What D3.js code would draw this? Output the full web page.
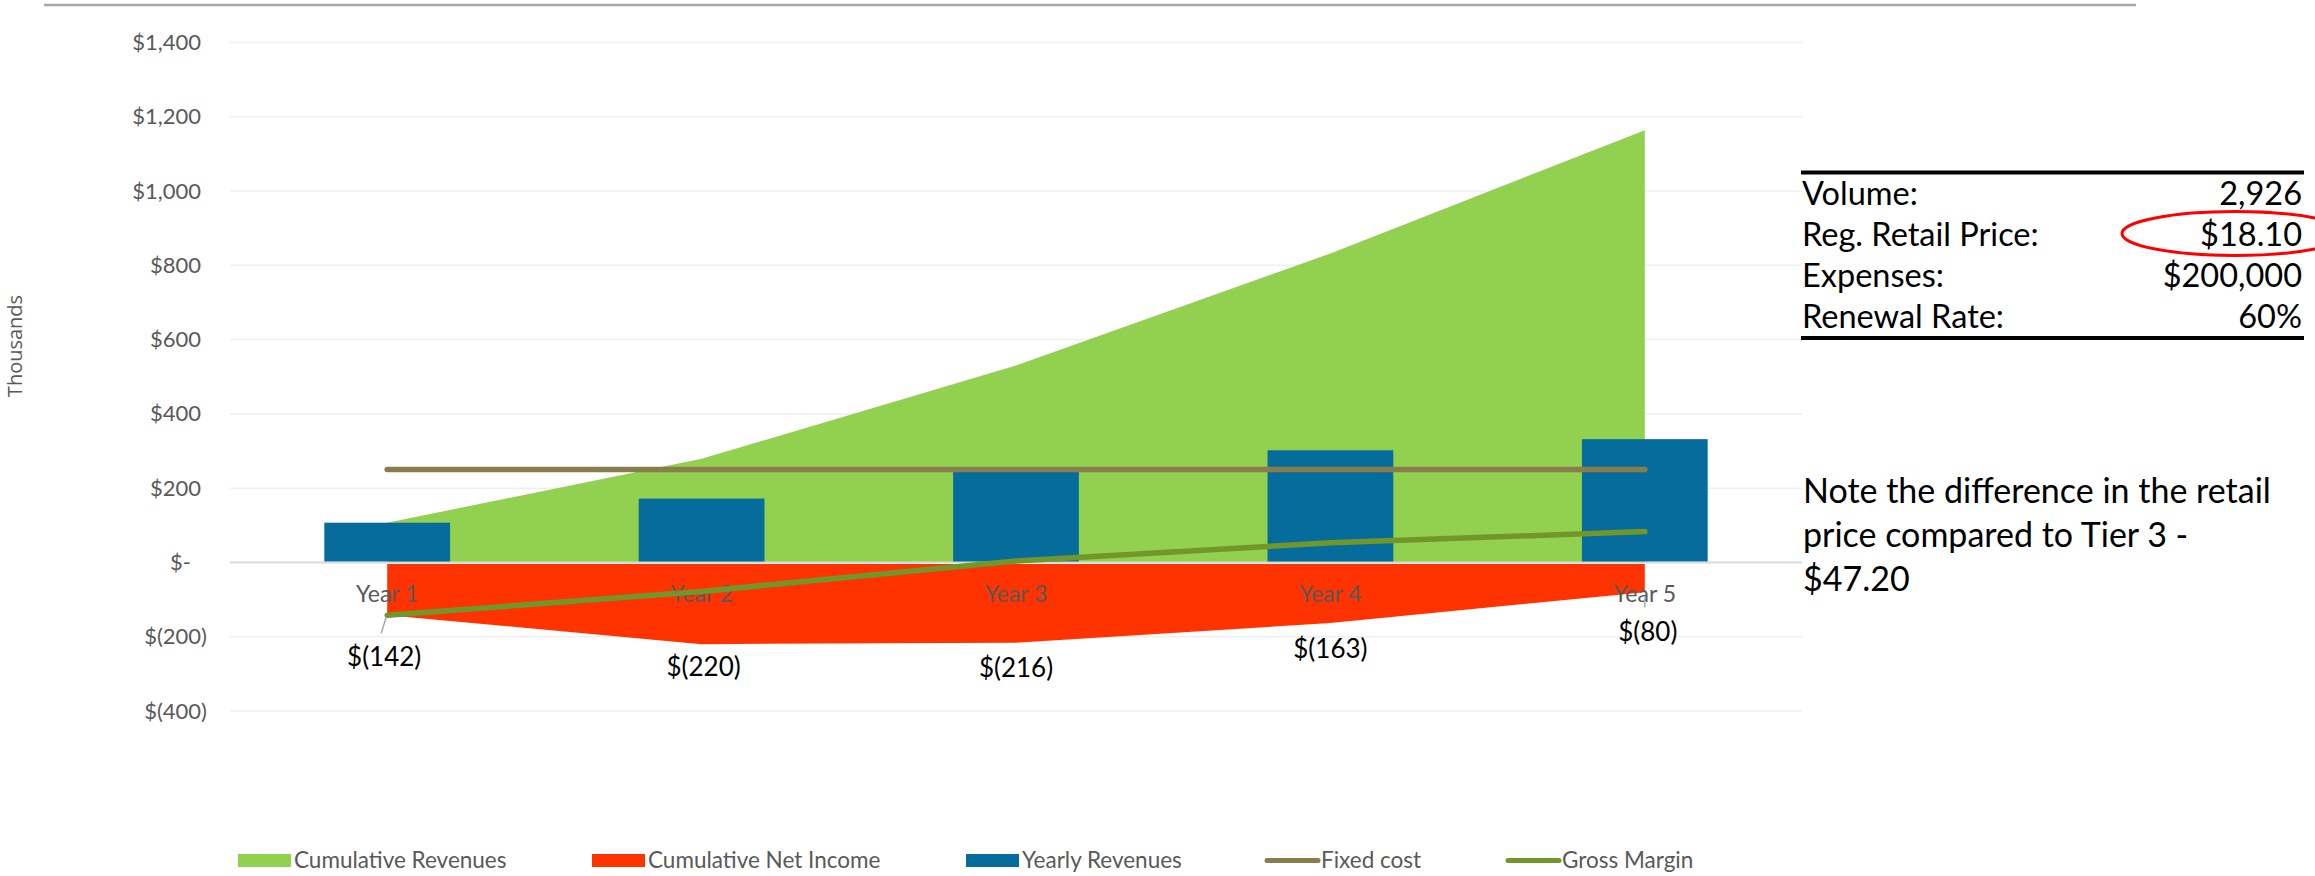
<!DOCTYPE html>
<html>
<head>
<meta charset="utf-8">
<script src="https://cdn.jsdelivr.net/npm/d3@7"></script>
<style>
  html, body { margin: 0; padding: 0; background: #fff; }
  svg { display: block; }
</style>
</head>
<body>
<svg id="chart" width="2315" height="876"></svg>
<script>
// ---- data ----
const categories = ["Year 1", "Year 2", "Year 3", "Year 4", "Year 5"];
const yearlyRevenues = [107, 172, 251, 302, 332];
const cumulativeRevenues = [107, 279, 530, 832, 1164];
const cumulativeNetIncome = [-142, -220, -216, -163, -80];
const fixedCost = [250, 250, 250, 250, 250];
const grossMargin = [-142, -78, 4, 53, 83];
const yTicks = [-400, -200, 0, 200, 400, 600, 800, 1000, 1200, 1400];
const tableLabels = ["Volume:", "Reg. Retail Price:", "Expenses:", "Renewal Rate:"];
const tableValues = ["2,926", "$18.10", "$200,000", "60%"];
const noteLines = ["Note the difference in the retail", "price compared to Tier 3 -", "$47.20"];
const legendNames = ["Cumulative Revenues", "Cumulative Net Income", "Yearly Revenues", "Fixed cost", "Gross Margin"];

// ---- styles / layout ----
const colors = {
  cumRev: "#92d050", cumNet: "#ff3300", yearly: "#066c9c",
  fixed: "#877d4d", gm: "#71972b", axisText: "#595959"
};
const FONT = "Lato, 'Open Sans', sans-serif";
const plot = { left: 230, right: 1802, top: 42.5, bottom: 711 };

const svg = d3.select("#chart");

const x = d3.scaleBand().domain(categories)
  .range([plot.left, plot.right]).paddingInner(0.6).paddingOuter(0.3);
const cx = d => x(d) + x.bandwidth() / 2;
const y = d3.scaleLinear().domain([-400, 1400]).range([plot.bottom, plot.top]);

// top rule
svg.append("line").attr("x1", 44).attr("x2", 2136).attr("y1", 5).attr("y2", 5)
  .attr("stroke", "#a6a6a6").attr("stroke-width", 2.5);

// gridlines
svg.append("g").selectAll("line").data(yTicks.filter(t => t !== 0)).join("line")
  .attr("x1", plot.left).attr("x2", plot.right)
  .attr("y1", d => y(d)).attr("y2", d => y(d))
  .attr("stroke", "#efefef").attr("stroke-width", 1.5);

// y axis labels
const fmt = v => v === 0 ? "$-" : v < 0 ? "$(" + d3.format(",")(-v) + ")" : "$" + d3.format(",")(v);
const yAxis = d3.axisLeft(y).tickValues(yTicks).tickFormat(fmt).tickSize(0).tickPadding(0);
const gy = svg.append("g").attr("transform", `translate(${plot.left - 29},0)`).call(yAxis);
gy.select(".domain").remove();
gy.selectAll("text").attr("font-family", FONT).attr("font-size", 22).attr("fill", colors.axisText)
  .attr("text-anchor", "end")
  .attr("dx", d => d === 0 ? -10 : d < 0 ? 6 : 0);

// axis title
svg.append("text").attr("transform", "translate(22,346) rotate(-90)")
  .attr("text-anchor", "middle").attr("font-family", "'Open Sans', sans-serif")
  .attr("font-size", 20).attr("fill", colors.axisText).text("Thousands");

const idx = categories.map((c, i) => i);

// cumulative revenues area
svg.append("path").datum(idx)
  .attr("d", d3.area().x(i => cx(categories[i])).y0(y(0)).y1(i => y(cumulativeRevenues[i])))
  .attr("fill", colors.cumRev);

// cumulative net income area
svg.append("path").datum(idx)
  .attr("d", d3.area().x(i => cx(categories[i])).y0(y(0) + 1.5).y1(i => y(cumulativeNetIncome[i])))
  .attr("fill", colors.cumNet);

// zero line
svg.append("line").attr("x1", plot.left).attr("x2", plot.right)
  .attr("y1", y(0)).attr("y2", y(0)).attr("stroke", "#d9d9d9").attr("stroke-width", 2);

// yearly revenue bars
svg.append("g").selectAll("rect").data(idx).join("rect")
  .attr("x", i => x(categories[i])).attr("width", x.bandwidth())
  .attr("y", i => y(yearlyRevenues[i])).attr("height", i => y(0) - 1 - y(yearlyRevenues[i]))
  .attr("fill", colors.yearly);

// x labels
svg.append("g").selectAll("text").data(categories).join("text")
  .attr("x", d => cx(d)).attr("y", y(0) + 40)
  .attr("text-anchor", "middle").attr("font-family", FONT).attr("font-size", 23)
  .attr("fill", colors.axisText).text(d => d);

// lines
const line = arr => d3.line().x(i => cx(categories[i])).y(i => y(arr[i]));
svg.append("path").datum(idx).attr("d", line(fixedCost))
  .attr("fill", "none").attr("stroke", colors.fixed).attr("stroke-width", 5.5)
  .attr("stroke-linecap", "round").attr("stroke-linejoin", "round");
svg.append("path").datum(idx).attr("d", line(grossMargin))
  .attr("fill", "none").attr("stroke", colors.gm).attr("stroke-width", 5.5)
  .attr("stroke-linecap", "round").attr("stroke-linejoin", "round");

// data labels for cumulative net income
const labelDy = [42, 23, 25, 26, 40];
const labelDx = [-3, 2, 0, 0, 3];
const leader = [[-6, 18, -1, 2], null, null, null, [0, 5, 0, 15]];
svg.append("g").selectAll("line").data(idx.filter(i => leader[i])).join("line")
  .attr("x1", i => cx(categories[i]) + leader[i][0]).attr("y1", i => y(cumulativeNetIncome[i]) + leader[i][1])
  .attr("x2", i => cx(categories[i]) + leader[i][2]).attr("y2", i => y(cumulativeNetIncome[i]) + leader[i][3])
  .attr("stroke", "#a6a6a6").attr("stroke-width", 1.5);
svg.append("g").selectAll("text").data(idx).join("text")
  .attr("x", i => cx(categories[i]) + labelDx[i])
  .attr("y", i => y(cumulativeNetIncome[i]) + labelDy[i])
  .attr("dy", "0.35em").attr("text-anchor", "middle")
  .attr("font-family", FONT).attr("font-size", 26).attr("fill", "#000")
  .text(i => fmt(cumulativeNetIncome[i]));

// table
const tbl = { x0: 1801, x1: 2304, top: 172.5, bottom: 338, row0: 205, rowH: 41 };
svg.append("line").attr("x1", tbl.x0).attr("x2", tbl.x1).attr("y1", tbl.top).attr("y2", tbl.top)
  .attr("stroke", "#000").attr("stroke-width", 4);
svg.append("line").attr("x1", tbl.x0).attr("x2", tbl.x1).attr("y1", tbl.bottom).attr("y2", tbl.bottom)
  .attr("stroke", "#000").attr("stroke-width", 4);
svg.append("g").selectAll("text").data(tableLabels).join("text")
  .attr("x", tbl.x0 + 1).attr("y", (d, i) => tbl.row0 + i * tbl.rowH)
  .attr("font-family", FONT).attr("font-size", 32.5).attr("fill", "#000").text(d => d);
svg.append("g").selectAll("text").data(tableValues).join("text")
  .attr("x", tbl.x1 - 2).attr("y", (d, i) => tbl.row0 + i * tbl.rowH).attr("text-anchor", "end")
  .attr("font-family", FONT).attr("font-size", 32.5).attr("fill", "#000").text(d => d);
svg.append("ellipse").attr("cx", 2235).attr("cy", 233.5).attr("rx", 113).attr("ry", 22)
  .attr("fill", "none").attr("stroke", "#ff0000").attr("stroke-width", 3);

// note
svg.append("g").selectAll("text").data(noteLines).join("text")
  .attr("x", 1803).attr("y", (d, i) => 503 + i * 44)
  .attr("font-family", FONT).attr("font-size", 34).attr("fill", "#000").text(d => d);

// legend
const legX = [238, 592, 966, 1265, 1506];
const legTypes = ["rect", "rect", "rect", "line", "line"];
const legColors = [colors.cumRev, colors.cumNet, colors.yearly, colors.fixed, colors.gm];
const lg = svg.append("g").selectAll("g").data(legendNames).join("g")
  .attr("transform", (d, i) => `translate(${legX[i]},860.5)`);
lg.filter((d, i) => legTypes[i] === "rect").append("rect")
  .attr("x", 0).attr("y", -6.5).attr("width", 53).attr("height", 13)
  .attr("fill", (d) => legColors[legendNames.indexOf(d)]);
lg.filter((d, i) => legTypes[i] === "line").append("line")
  .attr("x1", 2).attr("x2", 53).attr("y1", 0).attr("y2", 0)
  .attr("stroke", d => legColors[legendNames.indexOf(d)]).attr("stroke-width", 5)
  .attr("stroke-linecap", "round");
lg.append("text").attr("x", 56).attr("y", 0).attr("dy", "0.35em")
  .attr("font-family", FONT).attr("font-size", 22.5).attr("fill", colors.axisText).text(d => d);
</script>
</body>
</html>
